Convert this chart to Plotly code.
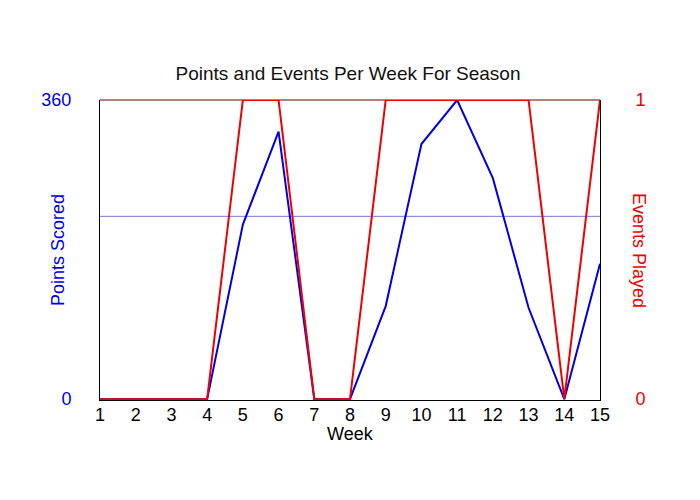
import plotly.graph_objects as go

# weekly data
weeks = list(range(1, 16))
points_scored = [0, 0, 0, 0, 210, 322, 0, 0, 112, 307, 360, 266, 110, 0, 163]
events_played = [0, 0, 0, 0, 1, 1, 0, 0, 1, 1, 1, 1, 1, 0, 1]
points_ref = 220  # thin horizontal guide line on points axis

font_family = "Liberation Sans, Arial, sans-serif"

fig = go.Figure()

fig.add_trace(go.Scatter(
    x=weeks, y=points_scored, mode="lines", name="Points Scored",
    line=dict(color="#0000e6", width=2), yaxis="y",
))
fig.add_trace(go.Scatter(
    x=weeks, y=events_played, mode="lines", name="Events Played",
    line=dict(color="#ee0000", width=2), yaxis="y2",
))

# guide line across the plot
fig.add_hline(y=points_ref, line=dict(color="#7777cc", width=1), layer="below")

# top frame line (dark red)
fig.add_shape(type="line", xref="paper", yref="paper", x0=0, x1=1, y0=1, y1=1,
              line=dict(color="#660000", width=1), layer="below")

# tiny pad below zero so the lines sitting on 0 aren't clipped by the plot edge
pad = 1.0

# page body has an 8px margin, so margins are offset to keep the plot at 100..600
fig.update_layout(
    width=700, height=500,
    margin=dict(l=92, r=108, t=92, b=108, autoexpand=False),
    paper_bgcolor="white", plot_bgcolor="white",
    showlegend=False,
    font=dict(family=font_family, color="black"),
    title=dict(text="Points and Events Per Week For Season", x=(348 - 8) / 700, xanchor="center",
               y=1 - 65 / 500, yanchor="middle", yref="container",
               font=dict(size=19, color="#111111")),
    xaxis=dict(
        range=[1, 15], tickmode="array", tickvals=weeks,
        showgrid=False, zeroline=False, showline=True, linecolor="black", linewidth=1,
        ticks="", ticklabelstandoff=-2, tickfont=dict(size=18, color="black"),
        layer="below traces",
    ),
    yaxis=dict(
        range=[-pad, 360], tickmode="array", tickvals=[0, 360],
        showgrid=False, zeroline=False, showline=True, linecolor="black", linewidth=1,
        ticks="", ticklabelstandoff=24, tickfont=dict(size=18, color="#0000e6"),
        layer="below traces",
    ),
    yaxis2=dict(
        range=[-pad / 360, 1], tickmode="array", tickvals=[0, 1],
        overlaying="y", side="right",
        showgrid=False, zeroline=False, showline=True, linecolor="black", linewidth=1,
        ticks="", ticklabelstandoff=31, tickfont=dict(size=18, color="#ee0000"),
        layer="below traces",
    ),
)

# axis titles placed as text
fig.add_annotation(text="Week", xref="paper", yref="paper", x=0.5, y=-34 / 300,
                   xanchor="center", yanchor="middle", showarrow=False,
                   font=dict(size=18, color="black"))
fig.add_annotation(text="Points Scored", xref="paper", yref="paper", x=-42 / 500, y=0.5,
                   xanchor="center", yanchor="middle", textangle=-90, showarrow=False,
                   font=dict(size=18, color="#0000e6"))
fig.add_annotation(text="Events Played", xref="paper", yref="paper", x=1 + 39 / 500, y=0.5,
                   xanchor="center", yanchor="middle", textangle=90, showarrow=False,
                   font=dict(size=18, color="#ee0000"))

fig.write_html("out.html")
